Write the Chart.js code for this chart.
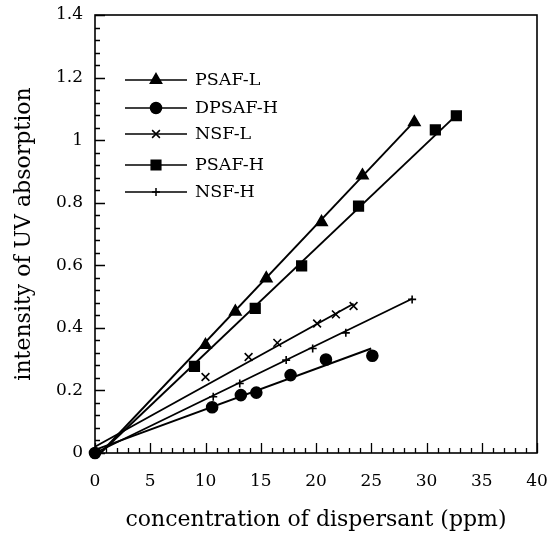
<!DOCTYPE html>
<html><head><meta charset="utf-8">
<script src="https://cdn.jsdelivr.net/npm/chart.js@4/dist/chart.umd.min.js"></script>
<style>html,body{margin:0;padding:0;background:#fff}canvas{display:block}</style>
</head><body>
<canvas id="c" width="550" height="535"></canvas>
<script>
// ---- data ----
const seriesNames = ['PSAF-L', 'DPSAF-H', 'NSF-L', 'PSAF-H', 'NSF-H'];

const psafL_x = [10.0, 12.7, 15.5, 20.5, 24.2, 28.9];
const psafL_y = [0.345, 0.452, 0.558, 0.738, 0.887, 1.057];
const psafL_fit = [[0.5, 0.0], [28.9, 1.06]];

const dpsafH_x = [0, 10.6, 13.2, 14.6, 17.7, 20.9, 25.1];
const dpsafH_y = [0, 0.146, 0.185, 0.193, 0.249, 0.299, 0.311];
const dpsafH_fit = [[0, 0.01], [25.0, 0.334]];

const nsfL_x = [10.0, 13.9, 16.5, 20.1, 21.8, 23.4];
const nsfL_y = [0.243, 0.307, 0.352, 0.414, 0.443, 0.470];
const nsfL_fit = [[0, 0.02], [23.4, 0.477]];

const psafH_x = [9.0, 14.5, 18.7, 23.85, 30.8, 32.7];
const psafH_y = [0.277, 0.462, 0.598, 0.789, 1.033, 1.078];
const psafH_fit = [[0.5, 0.0], [32.7, 1.08]];

const nsfH_x = [10.7, 13.1, 17.3, 19.7, 22.7, 28.7];
const nsfH_y = [0.180, 0.222, 0.297, 0.334, 0.384, 0.491];
const nsfH_fit = [[0, 0.0], [28.7, 0.493]];

const xTickLabels = [0, 5, 10, 15, 20, 25, 30, 35, 40];
const yTickLabels = [0, 0.2, 0.4, 0.6, 0.8, 1, 1.2, 1.4];
const xMinorStep = 1;
const yMinorStep = 0.04;

const xTitle = 'concentration of dispersant (ppm)';
const yTitle = 'intensity of UV absorption';

// ---- build datasets ----
const pts = (xs, ys) => xs.map((x, i) => ({x, y: ys[i]}));
const fitPts = f => f.map(p => ({x: p[0], y: p[1]}));

const styles = [
  {pointStyle: 'triangle', radius: 6.5},
  {pointStyle: 'circle', radius: 5.5},
  {pointStyle: 'crossRot', radius: 5.5},
  {pointStyle: 'rect', radius: 6.8},
  {pointStyle: 'cross', radius: 4}
];
const xs = [psafL_x, dpsafH_x, nsfL_x, psafH_x, nsfH_x];
const ys = [psafL_y, dpsafH_y, nsfL_y, psafH_y, nsfH_y];
const fits = [psafL_fit, dpsafH_fit, nsfL_fit, psafH_fit, nsfH_fit];

const datasets = [];
seriesNames.forEach((name, i) => {
  datasets.push({
    label: name, data: pts(xs[i], ys[i]), showLine: false,
    pointStyle: styles[i].pointStyle, pointRadius: styles[i].radius, pointHoverRadius: styles[i].radius,
    backgroundColor: '#000', borderColor: '#000', pointBorderWidth: 1.6, clip: false, isMarker: true
  });
  datasets.push({
    label: name + ' fit', data: fitPts(fits[i]), showLine: true, pointRadius: 0,
    borderColor: '#000', borderWidth: 1.9, clip: false
  });
});

const FONT = "'DejaVu Serif', 'Liberation Serif', serif";
Chart.defaults.font.family = FONT;
Chart.defaults.color = '#000';

const framePlugin = {
  id: 'frame',
  afterDraw(chart) {
    const {ctx, chartArea: a, scales: {x, y}} = chart;
    ctx.save();
    ctx.strokeStyle = '#000';
    ctx.lineWidth = 1.6;
    ctx.strokeRect(a.left, a.top, a.right - a.left, a.bottom - a.top);
    ctx.lineWidth = 1.3;
    ctx.beginPath();
    for (let v = x.min; v <= x.max + 1e-9; v += xMinorStep) {
      const px = Math.round(x.getPixelForValue(v)) + 0.5;
      const major = xTickLabels.some(t => Math.abs(t - v) < 1e-6);
      const len = major ? 10 : 5;
      ctx.moveTo(px, a.bottom); ctx.lineTo(px, a.bottom - len);
    }
    for (let k = 0; k * yMinorStep <= y.max + 1e-9; k++) {
      const v = k * yMinorStep;
      const py = Math.round(y.getPixelForValue(v)) + 0.5;
      const major = yTickLabels.some(t => Math.abs(t - v) < 1e-6);
      const len = major ? 10 : 5;
      ctx.moveTo(a.left, py); ctx.lineTo(a.left + len, py);
    }
    ctx.stroke();
    ctx.restore();
  }
};

const legendPlugin = {
  id: 'lineLegend',
  afterDraw(chart, args, opts) {
    const {ctx} = chart;
    ctx.save();
    const markers = chart.data.datasets.filter(d => d.isMarker);
    markers.forEach((d, i) => {
      const yy = opts.rows[i];
      ctx.strokeStyle = '#000';
      ctx.lineWidth = 1.5;
      ctx.beginPath();
      ctx.moveTo(opts.x0, yy); ctx.lineTo(opts.x1, yy);
      ctx.stroke();
      ctx.fillStyle = '#000';
      Chart.helpers.drawPoint(ctx, {pointStyle: d.pointStyle, radius: d.pointRadius, borderWidth: 1.6}, opts.xm, yy);
      ctx.font = opts.font;
      ctx.textBaseline = 'middle';
      ctx.textAlign = 'left';
      ctx.fillText(d.label, opts.tx, yy);
    });
    ctx.restore();
  }
};

new Chart(document.getElementById('c'), {
  type: 'scatter',
  data: {datasets},
  options: {
    responsive: false,
    animation: false,
    events: [],
    layout: {padding: {top: 15, right: 13, left: 0, bottom: 0}},
    plugins: {
      legend: {display: false},
      tooltip: {enabled: false},
      lineLegend: {
        rows: [80, 108, 134, 165, 192],
        x0: 125, x1: 187, xm: 156, tx: 195,
        font: "17.5px " + FONT
      }
    },
    scales: {
      x: {
        type: 'linear', min: 0, max: 40,
        afterFit: s => { s.height = 82; s.paddingLeft = 0; s.paddingRight = 0; },
        afterBuildTicks: s => { s.ticks = xTickLabels.map(v => ({value: v})); },
        ticks: {padding: 18, font: {size: 17}, color: '#000', maxRotation: 0,
                callback: v => String(v)},
        grid: {display: false, drawTicks: false},
        border: {display: false},
        title: {display: true, text: xTitle, font: {size: 22}, color: '#000', padding: {top: 0, bottom: 2}}
      },
      y: {
        type: 'linear', min: 0, max: 1.4,
        afterFit: s => { s.width = 95; s.paddingTop = 0; s.paddingBottom = 0; },
        afterBuildTicks: s => { s.ticks = yTickLabels.map(v => ({value: v})); },
        ticks: {padding: 12, font: {size: 17}, color: '#000',
                callback: v => String(+v.toFixed(2))},
        grid: {display: false, drawTicks: false},
        border: {display: false},
        title: {display: true, text: yTitle, font: {size: 22}, color: '#000', padding: {top: 11, bottom: 0}}
      }
    }
  },
  plugins: [framePlugin, legendPlugin]
});
</script>
</body></html>
